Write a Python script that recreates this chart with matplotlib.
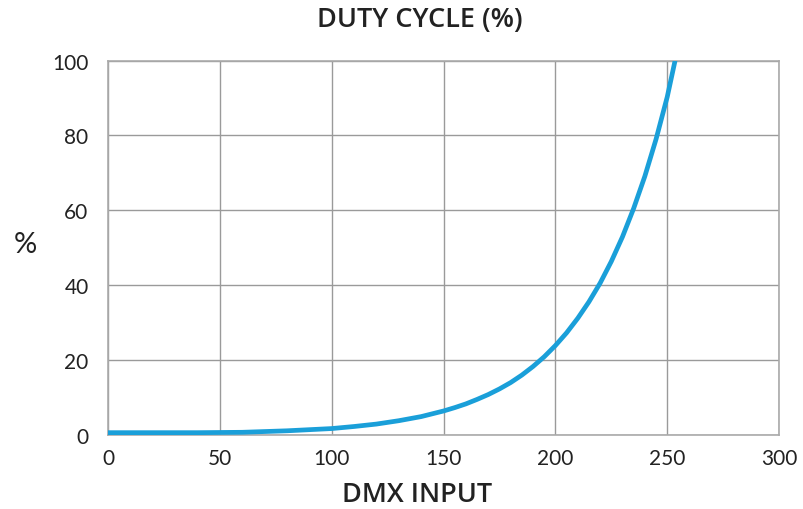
import matplotlib
matplotlib.use("Agg")
import matplotlib.pyplot as plt

dmx = [0, 20, 40, 60, 80, 100, 110, 120, 130, 140,
       150, 155, 160, 165, 170, 175, 180, 185, 190, 195,
       200, 205, 210, 215, 220, 225, 230, 235, 240, 245, 250, 253.5]
duty = [0.5, 0.5, 0.5, 0.6, 1.0, 1.6, 2.15, 2.8, 3.7, 4.8,
        6.3, 7.2, 8.2, 9.4, 10.7, 12.2, 13.9, 15.9, 18.2, 20.8,
        23.8, 27.2, 31.1, 35.5, 40.5, 46.3, 52.9, 60.5, 69.1, 79.0, 90.3, 100]

xticks = [0, 50, 100, 150, 200, 250, 300]
yticks = [0, 20, 40, 60, 80, 100]

plt.rcParams['font.family'] = ['Lato', 'DejaVu Sans']

fig = plt.figure(figsize=(8.04, 5.10), dpi=100)
ax = fig.add_axes([0.1343, 0.146, 0.969 - 0.1343, 0.879 - 0.146])

ax.plot(dmx, duty, color='#1a9fd9', lw=3.4, solid_capstyle='butt',
        solid_joinstyle='round', clip_on=True, zorder=3)

ax.set_xlim(0, 300)
ax.set_ylim(0, 100)
ax.set_xticks(xticks)
ax.set_yticks(yticks)
ax.grid(True, color='#9a9a9a', lw=1.0)
ax.set_axisbelow(True)
for s in ax.spines.values():
    s.set_color('#aaaaaa')
    s.set_linewidth(1.2)
ax.tick_params(length=0, labelsize=15, colors='#222222', pad=10)
ax.tick_params(axis='y', pad=14)

tfont = ['Open Sans', 'DejaVu Sans']
fig.text(0.522, 0.960, 'DUTY CYCLE (%)', ha='center', va='center', fontsize=19.5,
         fontweight='semibold', family=tfont, color='#222222')
fig.text(0.519, 0.030, 'DMX INPUT', ha='center', va='center', fontsize=19.5,
         fontweight='semibold', family=tfont, color='#222222')
fig.text(0.031, 0.52, '%', ha='center', va='center', fontsize=21, color='#222222')

fig.savefig('out.png', dpi=100)
